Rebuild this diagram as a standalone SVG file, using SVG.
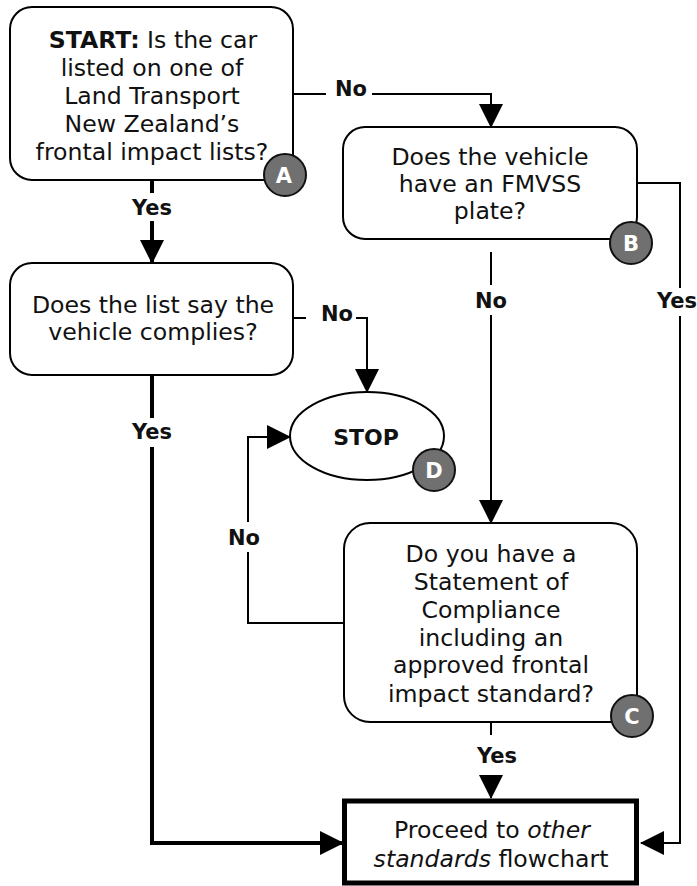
<svg xmlns="http://www.w3.org/2000/svg" width="697" height="886" viewBox="0 0 697 886">
<defs>
<marker id="arr" markerUnits="userSpaceOnUse" viewBox="0 0 24 24" markerWidth="24" markerHeight="24" refX="23" refY="12" orient="auto">
<path d="M0,0 L24,12 L0,24 z" fill="#000"/>
</marker>
<style>
.box{fill:#fff;stroke:#000;stroke-width:2}
.txt{font-family:"DejaVu Sans",Verdana,sans-serif;font-size:23.6px;fill:#111;text-anchor:middle}
.lbl{font-family:"DejaVu Sans",Verdana,sans-serif;font-size:21px;font-weight:bold;fill:#111;text-anchor:middle}
.badge{fill:#707070;stroke:#111;stroke-width:2}
.bt{font-family:"DejaVu Sans",Verdana,sans-serif;font-size:21px;font-weight:bold;fill:#fff;text-anchor:middle}
.ln{fill:none;stroke:#000;stroke-width:2}
.thk{fill:none;stroke:#000;stroke-width:4}
</style>
</defs>
<rect width="697" height="886" fill="#fff"/>
<g id="connectors">
<path class="ln" d="M293,94 H326"/>
<path class="ln" d="M372,94 H491 V127" marker-end="url(#arr)"/>
<path class="thk" d="M152,180 V193"/>
<path class="thk" d="M152,221 V263" marker-end="url(#arr)"/>
<path class="ln" d="M293,318 H306"/>
<path class="ln" d="M356,318 H367 V392" marker-end="url(#arr)"/>
<path class="thk" d="M152,375 V418"/>
<path class="thk" d="M152,447 V843 H343" marker-end="url(#arr)"/>
<path class="ln" d="M491,252 V285"/>
<path class="ln" d="M491,315 V523" marker-end="url(#arr)"/>
<path class="ln" d="M637,183 H680 V288"/>
<path class="ln" d="M680,316 V843 H641" marker-end="url(#arr)"/>
<path class="ln" d="M344,623 H248 V552"/>
<path class="ln" d="M248,522 V437 H290" marker-end="url(#arr)"/>
<path class="ln" d="M491,722 V735"/>
<path class="ln" d="M491,776 V798" marker-end="url(#arr)"/>
<text class="lbl" x="351" y="96">No</text>
<text class="lbl" x="152" y="215">Yes</text>
<text class="lbl" x="337" y="321">No</text>
<text class="lbl" x="152" y="439">Yes</text>
<text class="lbl" x="491" y="308">No</text>
<text class="lbl" x="677" y="308">Yes</text>
<text class="lbl" x="244" y="545">No</text>
<text class="lbl" x="497" y="763">Yes</text>
</g>
<g id="nodeA">
<rect class="box" x="10" y="7" width="283" height="173" rx="22"/>
<text class="txt" x="153" y="48"><tspan font-weight="bold">START:</tspan> Is the car</text>
<text class="txt" x="152" y="76">listed on one of</text>
<text class="txt" x="152" y="104">Land Transport</text>
<text class="txt" x="152" y="132">New Zealand’s</text>
<text class="txt" x="152" y="160">frontal impact lists?</text>
<circle class="badge" cx="285" cy="175" r="21"/>
<text class="bt" x="284" y="183">A</text>
</g>
<g id="nodeList">
<rect class="box" x="10" y="263" width="283" height="112" rx="22"/>
<text class="txt" x="153" y="313">Does the list say the</text>
<text class="txt" x="153" y="340">vehicle complies?</text>
</g>
<g id="nodeB">
<rect class="box" x="343" y="127" width="294" height="112" rx="22"/>
<text class="txt" x="490" y="165">Does the vehicle</text>
<text class="txt" x="490" y="192">have an FMVSS</text>
<text class="txt" x="490" y="219">plate?</text>
<circle class="badge" cx="631" cy="243" r="21"/>
<text class="bt" x="631" y="251">B</text>
</g>
<g id="nodeStop">
<ellipse class="box" cx="367" cy="436" rx="77" ry="44"/>
<text class="lbl" x="366" y="445" style="font-size:22px">STOP</text>
<circle class="badge" cx="434" cy="470" r="21"/>
<text class="bt" x="434" y="478">D</text>
</g>
<g id="nodeC">
<rect class="box" x="344" y="523" width="293" height="199" rx="26"/>
<text class="txt" x="491" y="562">Do you have a</text>
<text class="txt" x="491" y="590">Statement of</text>
<text class="txt" x="491" y="618">Compliance</text>
<text class="txt" x="491" y="646">including an</text>
<text class="txt" x="491" y="673">approved frontal</text>
<text class="txt" x="491" y="702">impact standard?</text>
<circle class="badge" cx="632" cy="716" r="21"/>
<text class="bt" x="632" y="724">C</text>
</g>
<g id="nodeFinal">
<rect x="344.5" y="801" width="292" height="82" fill="#fff" stroke="#000" stroke-width="5"/>
<text class="txt" x="492" y="838">Proceed to <tspan font-style="italic">other</tspan></text>
<text class="txt" x="491" y="867"><tspan font-style="italic">standards</tspan> flowchart</text>
</g>
</svg>
